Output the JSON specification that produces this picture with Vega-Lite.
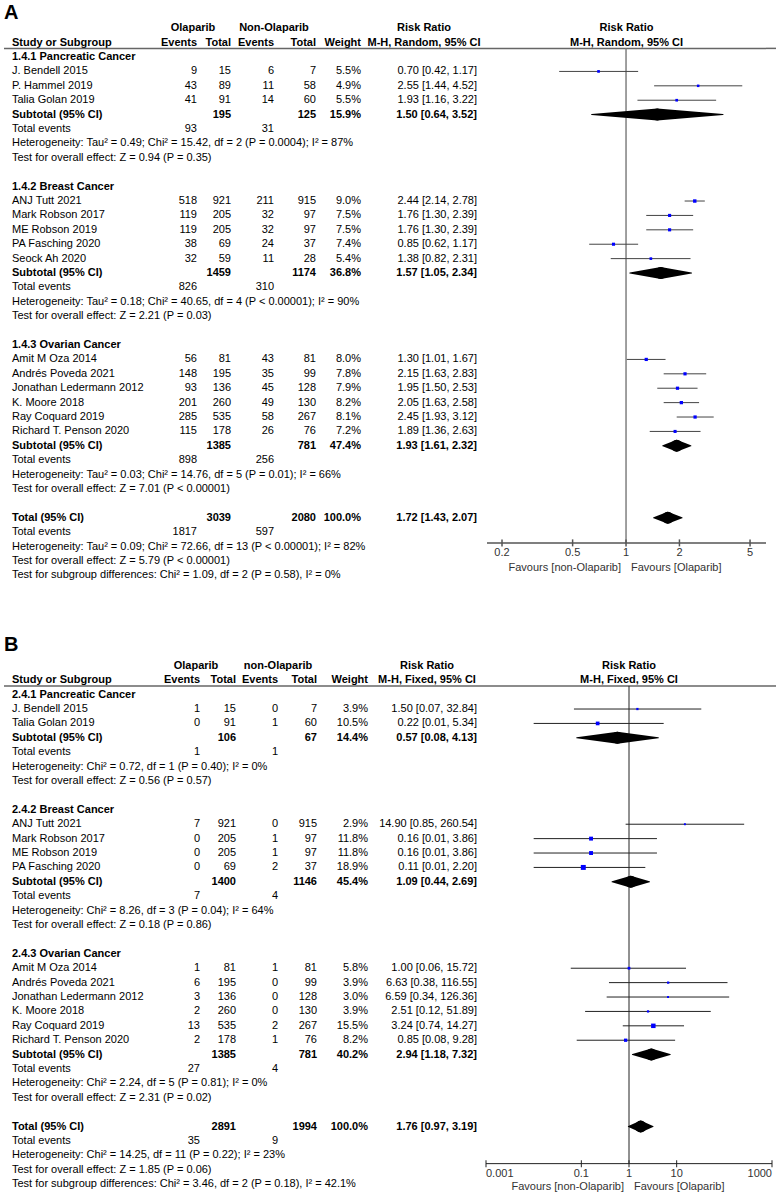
{
"$schema": "https://vega.github.io/schema/vega-lite/v6.json",
"background": "white",
"padding": {"left": 3, "top": 0, "right": 0, "bottom": 0},
"spacing": 43.6,
"config": {"font": "Liberation Sans", "view": {"stroke": null}, "text": {"fontSize": 11, "baseline": "middle", "color": "#000"}},
"datasets": {
"ticksA": [{"v": 0.2}, {"v": 0.5}, {"v": 1}, {"v": 2}, {"v": 5}],
"ticksB": [{"v": 0.001}, {"v": 0.1}, {"v": 1}, {"v": 10}, {"v": 1000}],
"A": [
{"row":0,"kind":"group","label":"1.4.1 Pancreatic Cancer"},
{"row":1,"kind":"study","label":"J. Bendell 2015","e1":9,"t1":15,"e2":6,"t2":7,"w":0.055,"ci":"0.70 [0.42, 1.17]","rr":0.70,"lo":0.42,"hi":1.17},
{"row":2,"kind":"study","label":"P. Hammel 2019","e1":43,"t1":89,"e2":11,"t2":58,"w":0.049,"ci":"2.55 [1.44, 4.52]","rr":2.55,"lo":1.44,"hi":4.52},
{"row":3,"kind":"study","label":"Talia Golan 2019","e1":41,"t1":91,"e2":14,"t2":60,"w":0.055,"ci":"1.93 [1.16, 3.22]","rr":1.93,"lo":1.16,"hi":3.22},
{"row":4,"kind":"sub","label":"Subtotal (95% CI)","t1":195,"t2":125,"w":0.159,"ci":"1.50 [0.64, 3.52]","rr":1.50,"lo":0.64,"hi":3.52},
{"row":5,"kind":"events","label":"Total events","e1":93,"e2":31},
{"row":6,"kind":"note","label":"Heterogeneity: Tau² = 0.49; Chi² = 15.42, df = 2 (P = 0.0004); I² = 87%"},
{"row":7,"kind":"note","label":"Test for overall effect: Z = 0.94 (P = 0.35)"},
{"row":9,"kind":"group","label":"1.4.2 Breast Cancer"},
{"row":10,"kind":"study","label":"ANJ Tutt 2021","e1":518,"t1":921,"e2":211,"t2":915,"w":0.090,"ci":"2.44 [2.14, 2.78]","rr":2.44,"lo":2.14,"hi":2.78},
{"row":11,"kind":"study","label":"Mark Robson 2017","e1":119,"t1":205,"e2":32,"t2":97,"w":0.075,"ci":"1.76 [1.30, 2.39]","rr":1.76,"lo":1.30,"hi":2.39},
{"row":12,"kind":"study","label":"ME Robson 2019","e1":119,"t1":205,"e2":32,"t2":97,"w":0.075,"ci":"1.76 [1.30, 2.39]","rr":1.76,"lo":1.30,"hi":2.39},
{"row":13,"kind":"study","label":"PA Fasching 2020","e1":38,"t1":69,"e2":24,"t2":37,"w":0.074,"ci":"0.85 [0.62, 1.17]","rr":0.85,"lo":0.62,"hi":1.17},
{"row":14,"kind":"study","label":"Seock Ah 2020","e1":32,"t1":59,"e2":11,"t2":28,"w":0.054,"ci":"1.38 [0.82, 2.31]","rr":1.38,"lo":0.82,"hi":2.31},
{"row":15,"kind":"sub","label":"Subtotal (95% CI)","t1":1459,"t2":1174,"w":0.368,"ci":"1.57 [1.05, 2.34]","rr":1.57,"lo":1.05,"hi":2.34},
{"row":16,"kind":"events","label":"Total events","e1":826,"e2":310},
{"row":17,"kind":"note","label":"Heterogeneity: Tau² = 0.18; Chi² = 40.65, df = 4 (P < 0.00001); I² = 90%"},
{"row":18,"kind":"note","label":"Test for overall effect: Z = 2.21 (P = 0.03)"},
{"row":20,"kind":"group","label":"1.4.3 Ovarian Cancer"},
{"row":21,"kind":"study","label":"Amit M Oza 2014","e1":56,"t1":81,"e2":43,"t2":81,"w":0.080,"ci":"1.30 [1.01, 1.67]","rr":1.30,"lo":1.01,"hi":1.67},
{"row":22,"kind":"study","label":"Andrés Poveda 2021","e1":148,"t1":195,"e2":35,"t2":99,"w":0.078,"ci":"2.15 [1.63, 2.83]","rr":2.15,"lo":1.63,"hi":2.83},
{"row":23,"kind":"study","label":"Jonathan Ledermann 2012","e1":93,"t1":136,"e2":45,"t2":128,"w":0.079,"ci":"1.95 [1.50, 2.53]","rr":1.95,"lo":1.50,"hi":2.53},
{"row":24,"kind":"study","label":"K. Moore 2018","e1":201,"t1":260,"e2":49,"t2":130,"w":0.082,"ci":"2.05 [1.63, 2.58]","rr":2.05,"lo":1.63,"hi":2.58},
{"row":25,"kind":"study","label":"Ray Coquard 2019","e1":285,"t1":535,"e2":58,"t2":267,"w":0.081,"ci":"2.45 [1.93, 3.12]","rr":2.45,"lo":1.93,"hi":3.12},
{"row":26,"kind":"study","label":"Richard T. Penson 2020","e1":115,"t1":178,"e2":26,"t2":76,"w":0.072,"ci":"1.89 [1.36, 2.63]","rr":1.89,"lo":1.36,"hi":2.63},
{"row":27,"kind":"sub","label":"Subtotal (95% CI)","t1":1385,"t2":781,"w":0.474,"ci":"1.93 [1.61, 2.32]","rr":1.93,"lo":1.61,"hi":2.32},
{"row":28,"kind":"events","label":"Total events","e1":898,"e2":256},
{"row":29,"kind":"note","label":"Heterogeneity: Tau² = 0.03; Chi² = 14.76, df = 5 (P = 0.01); I² = 66%"},
{"row":30,"kind":"note","label":"Test for overall effect: Z = 7.01 (P < 0.00001)"},
{"row":32,"kind":"total","label":"Total (95% CI)","t1":3039,"t2":2080,"w":1,"ci":"1.72 [1.43, 2.07]","rr":1.72,"lo":1.43,"hi":2.07},
{"row":33,"kind":"events","label":"Total events","e1":1817,"e2":597},
{"row":34,"kind":"note","label":"Heterogeneity: Tau² = 0.09; Chi² = 72.66, df = 13 (P < 0.00001); I² = 82%"},
{"row":35,"kind":"note","label":"Test for overall effect: Z = 5.79 (P < 0.00001)"},
{"row":36,"kind":"note","label":"Test for subgroup differences: Chi² = 1.09, df = 2 (P = 0.58), I² = 0%"}
],
"B": [
{"row":0,"kind":"group","label":"2.4.1 Pancreatic Cancer"},
{"row":1,"kind":"study","label":"J. Bendell 2015","e1":1,"t1":15,"e2":0,"t2":7,"w":0.039,"ci":"1.50 [0.07, 32.84]","rr":1.50,"lo":0.07,"hi":32.84},
{"row":2,"kind":"study","label":"Talia Golan 2019","e1":0,"t1":91,"e2":1,"t2":60,"w":0.105,"ci":"0.22 [0.01, 5.34]","rr":0.22,"lo":0.01,"hi":5.34},
{"row":3,"kind":"sub","label":"Subtotal (95% CI)","t1":106,"t2":67,"w":0.144,"ci":"0.57 [0.08, 4.13]","rr":0.57,"lo":0.08,"hi":4.13},
{"row":4,"kind":"events","label":"Total events","e1":1,"e2":1},
{"row":5,"kind":"note","label":"Heterogeneity: Chi² = 0.72, df = 1 (P = 0.40); I² = 0%"},
{"row":6,"kind":"note","label":"Test for overall effect: Z = 0.56 (P = 0.57)"},
{"row":8,"kind":"group","label":"2.4.2 Breast Cancer"},
{"row":9,"kind":"study","label":"ANJ Tutt 2021","e1":7,"t1":921,"e2":0,"t2":915,"w":0.029,"ci":"14.90 [0.85, 260.54]","rr":14.90,"lo":0.85,"hi":260.54},
{"row":10,"kind":"study","label":"Mark Robson 2017","e1":0,"t1":205,"e2":1,"t2":97,"w":0.118,"ci":"0.16 [0.01, 3.86]","rr":0.16,"lo":0.01,"hi":3.86},
{"row":11,"kind":"study","label":"ME Robson 2019","e1":0,"t1":205,"e2":1,"t2":97,"w":0.118,"ci":"0.16 [0.01, 3.86]","rr":0.16,"lo":0.01,"hi":3.86},
{"row":12,"kind":"study","label":"PA Fasching 2020","e1":0,"t1":69,"e2":2,"t2":37,"w":0.189,"ci":"0.11 [0.01, 2.20]","rr":0.11,"lo":0.01,"hi":2.20},
{"row":13,"kind":"sub","label":"Subtotal (95% CI)","t1":1400,"t2":1146,"w":0.454,"ci":"1.09 [0.44, 2.69]","rr":1.09,"lo":0.44,"hi":2.69},
{"row":14,"kind":"events","label":"Total events","e1":7,"e2":4},
{"row":15,"kind":"note","label":"Heterogeneity: Chi² = 8.26, df = 3 (P = 0.04); I² = 64%"},
{"row":16,"kind":"note","label":"Test for overall effect: Z = 0.18 (P = 0.86)"},
{"row":18,"kind":"group","label":"2.4.3 Ovarian Cancer"},
{"row":19,"kind":"study","label":"Amit M Oza 2014","e1":1,"t1":81,"e2":1,"t2":81,"w":0.058,"ci":"1.00 [0.06, 15.72]","rr":1.00,"lo":0.06,"hi":15.72},
{"row":20,"kind":"study","label":"Andrés Poveda 2021","e1":6,"t1":195,"e2":0,"t2":99,"w":0.039,"ci":"6.63 [0.38, 116.55]","rr":6.63,"lo":0.38,"hi":116.55},
{"row":21,"kind":"study","label":"Jonathan Ledermann 2012","e1":3,"t1":136,"e2":0,"t2":128,"w":0.030,"ci":"6.59 [0.34, 126.36]","rr":6.59,"lo":0.34,"hi":126.36},
{"row":22,"kind":"study","label":"K. Moore 2018","e1":2,"t1":260,"e2":0,"t2":130,"w":0.039,"ci":"2.51 [0.12, 51.89]","rr":2.51,"lo":0.12,"hi":51.89},
{"row":23,"kind":"study","label":"Ray Coquard 2019","e1":13,"t1":535,"e2":2,"t2":267,"w":0.155,"ci":"3.24 [0.74, 14.27]","rr":3.24,"lo":0.74,"hi":14.27},
{"row":24,"kind":"study","label":"Richard T. Penson 2020","e1":2,"t1":178,"e2":1,"t2":76,"w":0.082,"ci":"0.85 [0.08, 9.28]","rr":0.85,"lo":0.08,"hi":9.28},
{"row":25,"kind":"sub","label":"Subtotal (95% CI)","t1":1385,"t2":781,"w":0.402,"ci":"2.94 [1.18, 7.32]","rr":2.94,"lo":1.18,"hi":7.32},
{"row":26,"kind":"events","label":"Total events","e1":27,"e2":4},
{"row":27,"kind":"note","label":"Heterogeneity: Chi² = 2.24, df = 5 (P = 0.81); I² = 0%"},
{"row":28,"kind":"note","label":"Test for overall effect: Z = 2.31 (P = 0.02)"},
{"row":30,"kind":"total","label":"Total (95% CI)","t1":2891,"t2":1994,"w":1,"ci":"1.76 [0.97, 3.19]","rr":1.76,"lo":0.97,"hi":3.19},
{"row":31,"kind":"events","label":"Total events","e1":35,"e2":9},
{"row":32,"kind":"note","label":"Heterogeneity: Chi² = 14.25, df = 11 (P = 0.22); I² = 23%"},
{"row":33,"kind":"note","label":"Test for overall effect: Z = 1.85 (P = 0.06)"},
{"row":34,"kind":"note","label":"Test for subgroup differences: Chi² = 3.46, df = 2 (P = 0.18), I² = 42.1%"}
]
},
"vconcat": [
{"hconcat": [
{"width": 147, "height": 590.4, "data": {"name": "A"},
 "layer": [
  {"transform": [{"filter": {"field": "kind", "oneOf": ["study", "events", "note"]}}], "mark": {"type": "text", "align": "left", "dx": 8}, "encoding": {"y": {"field": "row", "type": "quantitative", "scale": {"domain": [-3.96, 37.04], "reverse": true, "nice": false, "zero": false}, "axis": null}, "x": {"value": 0}, "text": {"field": "label", "type": "nominal"}}},
  {"transform": [{"filter": {"field": "kind", "oneOf": ["group", "sub", "total"]}}], "mark": {"type": "text", "align": "left", "dx": 8, "fontWeight": "bold"}, "encoding": {"y": {"field": "row", "type": "quantitative", "scale": {"domain": [-3.96, 37.04], "reverse": true, "nice": false, "zero": false}, "axis": null}, "x": {"value": 0}, "text": {"field": "label", "type": "nominal"}}},
  {"data": {"values": [{}]}, "mark": {"type": "text", "align": "left", "dx": 8, "fontWeight": "bold"}, "encoding": {"x": {"value": 0}, "y": {"datum": -1, "scale": {"domain": [-3.96, 37.04], "reverse": true, "nice": false, "zero": false}, "axis": null}, "text": {"value": "Study or Subgroup"}}},
  {"data": {"values": [{}]}, "mark": {"type": "text", "align": "left", "fontWeight": "bold", "fontSize": 20}, "encoding": {"x": {"value": 0}, "y": {"datum": -3.05, "scale": {"domain": [-3.96, 37.04], "reverse": true, "nice": false, "zero": false}, "axis": null}, "text": {"value": "A"}}},
  {"data": {"values": [{}]}, "mark": {"type": "rule", "color": "#666", "strokeWidth": 1.5}, "encoding": {"x": {"value": 0}, "x2": {"value": "width"}, "y": {"datum": -0.6, "scale": {"domain": [-3.96, 37.04], "reverse": true, "nice": false, "zero": false}, "axis": null}}}
 ]},
{"width": 46, "height": 590.4, "data": {"name": "A"},
 "layer": [
  {"transform": [{"filter": {"field": "kind", "oneOf": ["study", "events"]}}], "mark": {"type": "text", "align": "right"}, "encoding": {"y": {"field": "row", "type": "quantitative", "scale": {"domain": [-3.96, 37.04], "reverse": true, "nice": false, "zero": false}, "axis": null}, "x": {"value": "width"}, "text": {"field": "e1", "type": "quantitative", "format": "d"}}},
  {"data": {"values": [{}]}, "mark": {"type": "text", "align": "right", "fontWeight": "bold"}, "encoding": {"x": {"value": "width"}, "y": {"datum": -1, "scale": {"domain": [-3.96, 37.04], "reverse": true, "nice": false, "zero": false}, "axis": null}, "text": {"value": "Events"}}},
  {"data": {"values": [{}]}, "mark": {"type": "text", "align": "center", "fontWeight": "bold", "dx": -4}, "encoding": {"x": {"value": "width"}, "y": {"datum": -2, "scale": {"domain": [-3.96, 37.04], "reverse": true, "nice": false, "zero": false}, "axis": null}, "text": {"value": "Olaparib"}}},
  {"data": {"values": [{}]}, "mark": {"type": "rule", "color": "#666", "strokeWidth": 1.5}, "encoding": {"x": {"value": 0}, "x2": {"value": "width"}, "y": {"datum": -0.6, "scale": {"domain": [-3.96, 37.04], "reverse": true, "nice": false, "zero": false}, "axis": null}}}
 ]},
{"width": 34, "height": 590.4, "data": {"name": "A"},
 "layer": [
  {"transform": [{"filter": {"field": "kind", "equal": "study"}}], "mark": {"type": "text", "align": "right"}, "encoding": {"y": {"field": "row", "type": "quantitative", "scale": {"domain": [-3.96, 37.04], "reverse": true, "nice": false, "zero": false}, "axis": null}, "x": {"value": "width"}, "text": {"field": "t1", "type": "quantitative", "format": "d"}}},
  {"transform": [{"filter": {"field": "kind", "oneOf": ["sub", "total"]}}], "mark": {"type": "text", "align": "right", "fontWeight": "bold"}, "encoding": {"y": {"field": "row", "type": "quantitative", "scale": {"domain": [-3.96, 37.04], "reverse": true, "nice": false, "zero": false}, "axis": null}, "x": {"value": "width"}, "text": {"field": "t1", "type": "quantitative", "format": "d"}}},
  {"data": {"values": [{}]}, "mark": {"type": "text", "align": "right", "fontWeight": "bold"}, "encoding": {"x": {"value": "width"}, "y": {"datum": -1, "scale": {"domain": [-3.96, 37.04], "reverse": true, "nice": false, "zero": false}, "axis": null}, "text": {"value": "Total"}}},
  {"data": {"values": [{}]}, "mark": {"type": "rule", "color": "#666", "strokeWidth": 1.5}, "encoding": {"x": {"value": 0}, "x2": {"value": "width"}, "y": {"datum": -0.6, "scale": {"domain": [-3.96, 37.04], "reverse": true, "nice": false, "zero": false}, "axis": null}}}
 ]},
{"width": 43, "height": 590.4, "data": {"name": "A"},
 "layer": [
  {"transform": [{"filter": {"field": "kind", "oneOf": ["study", "events"]}}], "mark": {"type": "text", "align": "right"}, "encoding": {"y": {"field": "row", "type": "quantitative", "scale": {"domain": [-3.96, 37.04], "reverse": true, "nice": false, "zero": false}, "axis": null}, "x": {"value": "width"}, "text": {"field": "e2", "type": "quantitative", "format": "d"}}},
  {"data": {"values": [{}]}, "mark": {"type": "text", "align": "right", "fontWeight": "bold"}, "encoding": {"x": {"value": "width"}, "y": {"datum": -1, "scale": {"domain": [-3.96, 37.04], "reverse": true, "nice": false, "zero": false}, "axis": null}, "text": {"value": "Events"}}},
  {"data": {"values": [{}]}, "mark": {"type": "text", "align": "center", "fontWeight": "bold"}, "encoding": {"x": {"value": "width"}, "y": {"datum": -2, "scale": {"domain": [-3.96, 37.04], "reverse": true, "nice": false, "zero": false}, "axis": null}, "text": {"value": "Non-Olaparib"}}},
  {"data": {"values": [{}]}, "mark": {"type": "rule", "color": "#666", "strokeWidth": 1.5}, "encoding": {"x": {"value": 0}, "x2": {"value": "width"}, "y": {"datum": -0.6, "scale": {"domain": [-3.96, 37.04], "reverse": true, "nice": false, "zero": false}, "axis": null}}}
 ]},
{"width": 42, "height": 590.4, "data": {"name": "A"},
 "layer": [
  {"transform": [{"filter": {"field": "kind", "equal": "study"}}], "mark": {"type": "text", "align": "right"}, "encoding": {"y": {"field": "row", "type": "quantitative", "scale": {"domain": [-3.96, 37.04], "reverse": true, "nice": false, "zero": false}, "axis": null}, "x": {"value": "width"}, "text": {"field": "t2", "type": "quantitative", "format": "d"}}},
  {"transform": [{"filter": {"field": "kind", "oneOf": ["sub", "total"]}}], "mark": {"type": "text", "align": "right", "fontWeight": "bold"}, "encoding": {"y": {"field": "row", "type": "quantitative", "scale": {"domain": [-3.96, 37.04], "reverse": true, "nice": false, "zero": false}, "axis": null}, "x": {"value": "width"}, "text": {"field": "t2", "type": "quantitative", "format": "d"}}},
  {"data": {"values": [{}]}, "mark": {"type": "text", "align": "right", "fontWeight": "bold"}, "encoding": {"x": {"value": "width"}, "y": {"datum": -1, "scale": {"domain": [-3.96, 37.04], "reverse": true, "nice": false, "zero": false}, "axis": null}, "text": {"value": "Total"}}},
  {"data": {"values": [{}]}, "mark": {"type": "rule", "color": "#666", "strokeWidth": 1.5}, "encoding": {"x": {"value": 0}, "x2": {"value": "width"}, "y": {"datum": -0.6, "scale": {"domain": [-3.96, 37.04], "reverse": true, "nice": false, "zero": false}, "axis": null}}}
 ]},
{"width": 45, "height": 590.4, "data": {"name": "A"},
 "layer": [
  {"transform": [{"filter": {"field": "kind", "equal": "study"}}], "mark": {"type": "text", "align": "right"}, "encoding": {"y": {"field": "row", "type": "quantitative", "scale": {"domain": [-3.96, 37.04], "reverse": true, "nice": false, "zero": false}, "axis": null}, "x": {"value": "width"}, "text": {"field": "w", "type": "quantitative", "format": ".1%"}}},
  {"transform": [{"filter": {"field": "kind", "oneOf": ["sub", "total"]}}], "mark": {"type": "text", "align": "right", "fontWeight": "bold"}, "encoding": {"y": {"field": "row", "type": "quantitative", "scale": {"domain": [-3.96, 37.04], "reverse": true, "nice": false, "zero": false}, "axis": null}, "x": {"value": "width"}, "text": {"field": "w", "type": "quantitative", "format": ".1%"}}},
  {"data": {"values": [{}]}, "mark": {"type": "text", "align": "right", "fontWeight": "bold"}, "encoding": {"x": {"value": "width"}, "y": {"datum": -1, "scale": {"domain": [-3.96, 37.04], "reverse": true, "nice": false, "zero": false}, "axis": null}, "text": {"value": "Weight"}}},
  {"data": {"values": [{}]}, "mark": {"type": "rule", "color": "#666", "strokeWidth": 1.5}, "encoding": {"x": {"value": 0}, "x2": {"value": "width"}, "y": {"datum": -0.6, "scale": {"domain": [-3.96, 37.04], "reverse": true, "nice": false, "zero": false}, "axis": null}}}
 ]},
{"width": 126, "height": 590.4, "data": {"name": "A"},
 "layer": [
  {"transform": [{"filter": {"field": "kind", "equal": "study"}}], "mark": {"type": "text", "align": "right", "dx": -10}, "encoding": {"y": {"field": "row", "type": "quantitative", "scale": {"domain": [-3.96, 37.04], "reverse": true, "nice": false, "zero": false}, "axis": null}, "x": {"value": "width"}, "text": {"field": "ci", "type": "nominal"}}},
  {"transform": [{"filter": {"field": "kind", "oneOf": ["sub", "total"]}}], "mark": {"type": "text", "align": "right", "dx": -10, "fontWeight": "bold"}, "encoding": {"y": {"field": "row", "type": "quantitative", "scale": {"domain": [-3.96, 37.04], "reverse": true, "nice": false, "zero": false}, "axis": null}, "x": {"value": "width"}, "text": {"field": "ci", "type": "nominal"}}},
  {"data": {"values": [{}]}, "mark": {"type": "text", "align": "center", "fontWeight": "bold"}, "encoding": {"y": {"datum": -2, "scale": {"domain": [-3.96, 37.04], "reverse": true, "nice": false, "zero": false}, "axis": null}, "text": {"value": "Risk Ratio"}}},
  {"data": {"values": [{}]}, "mark": {"type": "text", "align": "center", "fontWeight": "bold"}, "encoding": {"y": {"datum": -1, "scale": {"domain": [-3.96, 37.04], "reverse": true, "nice": false, "zero": false}, "axis": null}, "text": {"value": "M-H, Random, 95% CI"}}},
  {"data": {"values": [{}]}, "mark": {"type": "rule", "color": "#666", "strokeWidth": 1.5}, "encoding": {"x": {"value": 0}, "x2": {"value": "width"}, "y": {"datum": -0.6, "scale": {"domain": [-3.96, 37.04], "reverse": true, "nice": false, "zero": false}, "axis": null}}}
 ]},
{"width": 279, "height": 542.88, "data": {"name": "A"},
 "resolve": {"scale": {"size": "independent"}},
 "layer": [
  {"data": {"values": [{}]}, "mark": {"type": "rule", "color": "#666", "strokeWidth": 1.5}, "encoding": {"x": {"value": 0}, "x2": {"value": "width"}, "y": {"datum": -0.6, "scale": {"domain": [-3.96, 33.74], "reverse": true, "nice": false, "zero": false}, "axis": null}}},
  {"data": {"values": [{}]}, "mark": {"type": "rule", "color": "#808080", "strokeWidth": 1.5}, "encoding": {"x": {"datum": 1, "type": "quantitative", "scale": {"type": "log", "domain": [0.1646, 6.15], "nice": false}, "axis": null}, "y": {"datum": -0.6, "scale": {"domain": [-3.96, 33.74], "reverse": true, "nice": false, "zero": false}, "axis": null}, "y2": {"value": "height"}}},
  {"data": {"values": [{}]}, "mark": {"type": "rule", "color": "#555", "strokeWidth": 1.5}, "encoding": {"x": {"value": 0}, "x2": {"value": "width"}, "y": {"value": "height"}}},
  {"data": {"name": "ticksA"}, "mark": {"type": "tick", "orient": "vertical", "size": 7, "thickness": 1.5, "color": "#555", "opacity": 1}, "encoding": {"x": {"field": "v", "type": "quantitative", "scale": {"type": "log", "domain": [0.1646, 6.15], "nice": false}, "axis": null}, "y": {"value": "height"}}},
  {"data": {"name": "ticksA"}, "mark": {"type": "text", "align": "center", "dy": 10, "color": "#333"}, "encoding": {"x": {"field": "v", "type": "quantitative", "scale": {"type": "log", "domain": [0.1646, 6.15], "nice": false}, "axis": null}, "y": {"value": "height"}, "text": {"field": "v", "type": "quantitative", "format": "~g"}}},
  {"transform": [{"filter": {"field": "kind", "equal": "study"}}], "mark": {"type": "rule", "color": "#444", "strokeWidth": 1}, "encoding": {"y": {"field": "row", "type": "quantitative", "scale": {"domain": [-3.96, 33.74], "reverse": true, "nice": false, "zero": false}, "axis": null}, "x": {"field": "lo", "type": "quantitative", "scale": {"type": "log", "domain": [0.1646, 6.15], "nice": false}, "axis": null}, "x2": {"field": "hi"}}},
  {"transform": [{"filter": {"field": "kind", "equal": "study"}}], "mark": {"type": "point", "shape": "square", "filled": true, "color": "#0000ff", "opacity": 1}, "encoding": {"y": {"field": "row", "type": "quantitative", "scale": {"domain": [-3.96, 33.74], "reverse": true, "nice": false, "zero": false}, "axis": null}, "x": {"field": "rr", "type": "quantitative", "scale": {"type": "log", "domain": [0.1646, 6.15], "nice": false}, "axis": null}, "size": {"field": "w", "type": "quantitative", "scale": {"domain": [0, 0.2], "range": [0, 26]}, "legend": null}}},
  {"transform": [{"filter": {"field": "kind", "oneOf": ["sub", "total"]}}, {"fold": ["lo", "rr"], "as": ["pt", "val"]}], "mark": {"type": "trail", "color": "#000"}, "encoding": {"y": {"field": "row", "type": "quantitative", "scale": {"domain": [-3.96, 33.74], "reverse": true, "nice": false, "zero": false}, "axis": null}, "x": {"field": "val", "type": "quantitative", "scale": {"type": "log", "domain": [0.1646, 6.15], "nice": false}, "axis": null}, "detail": {"field": "row", "type": "nominal"}, "order": {"field": "val", "type": "quantitative"}, "size": {"field": "pt", "type": "ordinal", "scale": {"type": "point", "domain": ["lo", "rr"], "range": [0, 12]}, "legend": null}}},
  {"transform": [{"filter": {"field": "kind", "oneOf": ["sub", "total"]}}, {"fold": ["rr", "hi"], "as": ["pt", "val"]}], "mark": {"type": "trail", "color": "#000"}, "encoding": {"y": {"field": "row", "type": "quantitative", "scale": {"domain": [-3.96, 33.74], "reverse": true, "nice": false, "zero": false}, "axis": null}, "x": {"field": "val", "type": "quantitative", "scale": {"type": "log", "domain": [0.1646, 6.15], "nice": false}, "axis": null}, "detail": {"field": "row", "type": "nominal"}, "order": {"field": "val", "type": "quantitative"}, "size": {"field": "pt", "type": "ordinal", "scale": {"type": "point", "domain": ["hi", "rr"], "range": [0, 12]}, "legend": null}}},
  {"data": {"values": [{}]}, "mark": {"type": "text", "align": "center", "fontWeight": "bold"}, "encoding": {"y": {"datum": -2, "scale": {"domain": [-3.96, 33.74], "reverse": true, "nice": false, "zero": false}, "axis": null}, "text": {"value": "Risk Ratio"}}},
  {"data": {"values": [{}]}, "mark": {"type": "text", "align": "center", "fontWeight": "bold"}, "encoding": {"y": {"datum": -1, "scale": {"domain": [-3.96, 33.74], "reverse": true, "nice": false, "zero": false}, "axis": null}, "text": {"value": "M-H, Random, 95% CI"}}},
  {"data": {"values": [{}]}, "mark": {"type": "text", "align": "right", "dx": -5, "dy": 25, "color": "#333"}, "encoding": {"x": {"datum": 1, "type": "quantitative", "scale": {"type": "log", "domain": [0.1646, 6.15], "nice": false}, "axis": null}, "y": {"value": "height"}, "text": {"value": "Favours [non-Olaparib]"}}},
  {"data": {"values": [{}]}, "mark": {"type": "text", "align": "left", "dx": 5, "dy": 25, "color": "#333"}, "encoding": {"x": {"datum": 1, "type": "quantitative", "scale": {"type": "log", "domain": [0.1646, 6.15], "nice": false}, "axis": null}, "y": {"value": "height"}, "text": {"value": "Favours [Olaparib]"}}}
 ]},
{"width": 10, "height": 590.4, "data": {"values": [{}]},
 "mark": {"type": "rule", "color": "#666", "strokeWidth": 1.5},
 "encoding": {"x": {"value": 0}, "x2": {"value": "width"}, "y": {"datum": -0.6, "scale": {"domain": [-3.96, 37.04], "reverse": true, "nice": false, "zero": false}, "axis": null}}}
], "spacing": 0, "bounds": "flush"},
{"hconcat": [
{"width": 147, "height": 561.6, "data": {"name": "B"},
 "layer": [
  {"transform": [{"filter": {"field": "kind", "oneOf": ["study", "events", "note"]}}], "mark": {"type": "text", "align": "left", "dx": 8}, "encoding": {"y": {"field": "row", "type": "quantitative", "scale": {"domain": [-3.96, 35.04], "reverse": true, "nice": false, "zero": false}, "axis": null}, "x": {"value": 0}, "text": {"field": "label", "type": "nominal"}}},
  {"transform": [{"filter": {"field": "kind", "oneOf": ["group", "sub", "total"]}}], "mark": {"type": "text", "align": "left", "dx": 8, "fontWeight": "bold"}, "encoding": {"y": {"field": "row", "type": "quantitative", "scale": {"domain": [-3.96, 35.04], "reverse": true, "nice": false, "zero": false}, "axis": null}, "x": {"value": 0}, "text": {"field": "label", "type": "nominal"}}},
  {"data": {"values": [{}]}, "mark": {"type": "text", "align": "left", "dx": 8, "fontWeight": "bold"}, "encoding": {"x": {"value": 0}, "y": {"datum": -1, "scale": {"domain": [-3.96, 35.04], "reverse": true, "nice": false, "zero": false}, "axis": null}, "text": {"value": "Study or Subgroup"}}},
  {"data": {"values": [{}]}, "mark": {"type": "text", "align": "left", "fontWeight": "bold", "fontSize": 20}, "encoding": {"x": {"value": 0}, "y": {"datum": -3.45, "scale": {"domain": [-3.96, 35.04], "reverse": true, "nice": false, "zero": false}, "axis": null}, "text": {"value": "B"}}},
  {"data": {"values": [{}]}, "mark": {"type": "rule", "color": "#666", "strokeWidth": 1.5}, "encoding": {"x": {"value": 0}, "x2": {"value": "width"}, "y": {"datum": -0.6, "scale": {"domain": [-3.96, 35.04], "reverse": true, "nice": false, "zero": false}, "axis": null}}}
 ]},
{"width": 49, "height": 561.6, "data": {"name": "B"},
 "layer": [
  {"transform": [{"filter": {"field": "kind", "oneOf": ["study", "events"]}}], "mark": {"type": "text", "align": "right"}, "encoding": {"y": {"field": "row", "type": "quantitative", "scale": {"domain": [-3.96, 35.04], "reverse": true, "nice": false, "zero": false}, "axis": null}, "x": {"value": "width"}, "text": {"field": "e1", "type": "quantitative", "format": "d"}}},
  {"data": {"values": [{}]}, "mark": {"type": "text", "align": "right", "fontWeight": "bold"}, "encoding": {"x": {"value": "width"}, "y": {"datum": -1, "scale": {"domain": [-3.96, 35.04], "reverse": true, "nice": false, "zero": false}, "axis": null}, "text": {"value": "Events"}}},
  {"data": {"values": [{}]}, "mark": {"type": "text", "align": "center", "fontWeight": "bold", "dx": -4}, "encoding": {"x": {"value": "width"}, "y": {"datum": -2, "scale": {"domain": [-3.96, 35.04], "reverse": true, "nice": false, "zero": false}, "axis": null}, "text": {"value": "Olaparib"}}},
  {"data": {"values": [{}]}, "mark": {"type": "rule", "color": "#666", "strokeWidth": 1.5}, "encoding": {"x": {"value": 0}, "x2": {"value": "width"}, "y": {"datum": -0.6, "scale": {"domain": [-3.96, 35.04], "reverse": true, "nice": false, "zero": false}, "axis": null}}}
 ]},
{"width": 36, "height": 561.6, "data": {"name": "B"},
 "layer": [
  {"transform": [{"filter": {"field": "kind", "equal": "study"}}], "mark": {"type": "text", "align": "right"}, "encoding": {"y": {"field": "row", "type": "quantitative", "scale": {"domain": [-3.96, 35.04], "reverse": true, "nice": false, "zero": false}, "axis": null}, "x": {"value": "width"}, "text": {"field": "t1", "type": "quantitative", "format": "d"}}},
  {"transform": [{"filter": {"field": "kind", "oneOf": ["sub", "total"]}}], "mark": {"type": "text", "align": "right", "fontWeight": "bold"}, "encoding": {"y": {"field": "row", "type": "quantitative", "scale": {"domain": [-3.96, 35.04], "reverse": true, "nice": false, "zero": false}, "axis": null}, "x": {"value": "width"}, "text": {"field": "t1", "type": "quantitative", "format": "d"}}},
  {"data": {"values": [{}]}, "mark": {"type": "text", "align": "right", "fontWeight": "bold"}, "encoding": {"x": {"value": "width"}, "y": {"datum": -1, "scale": {"domain": [-3.96, 35.04], "reverse": true, "nice": false, "zero": false}, "axis": null}, "text": {"value": "Total"}}},
  {"data": {"values": [{}]}, "mark": {"type": "rule", "color": "#666", "strokeWidth": 1.5}, "encoding": {"x": {"value": 0}, "x2": {"value": "width"}, "y": {"datum": -0.6, "scale": {"domain": [-3.96, 35.04], "reverse": true, "nice": false, "zero": false}, "axis": null}}}
 ]},
{"width": 42, "height": 561.6, "data": {"name": "B"},
 "layer": [
  {"transform": [{"filter": {"field": "kind", "oneOf": ["study", "events"]}}], "mark": {"type": "text", "align": "right"}, "encoding": {"y": {"field": "row", "type": "quantitative", "scale": {"domain": [-3.96, 35.04], "reverse": true, "nice": false, "zero": false}, "axis": null}, "x": {"value": "width"}, "text": {"field": "e2", "type": "quantitative", "format": "d"}}},
  {"data": {"values": [{}]}, "mark": {"type": "text", "align": "right", "fontWeight": "bold"}, "encoding": {"x": {"value": "width"}, "y": {"datum": -1, "scale": {"domain": [-3.96, 35.04], "reverse": true, "nice": false, "zero": false}, "axis": null}, "text": {"value": "Events"}}},
  {"data": {"values": [{}]}, "mark": {"type": "text", "align": "center", "fontWeight": "bold"}, "encoding": {"x": {"value": "width"}, "y": {"datum": -2, "scale": {"domain": [-3.96, 35.04], "reverse": true, "nice": false, "zero": false}, "axis": null}, "text": {"value": "non-Olaparib"}}},
  {"data": {"values": [{}]}, "mark": {"type": "rule", "color": "#666", "strokeWidth": 1.5}, "encoding": {"x": {"value": 0}, "x2": {"value": "width"}, "y": {"datum": -0.6, "scale": {"domain": [-3.96, 35.04], "reverse": true, "nice": false, "zero": false}, "axis": null}}}
 ]},
{"width": 39, "height": 561.6, "data": {"name": "B"},
 "layer": [
  {"transform": [{"filter": {"field": "kind", "equal": "study"}}], "mark": {"type": "text", "align": "right"}, "encoding": {"y": {"field": "row", "type": "quantitative", "scale": {"domain": [-3.96, 35.04], "reverse": true, "nice": false, "zero": false}, "axis": null}, "x": {"value": "width"}, "text": {"field": "t2", "type": "quantitative", "format": "d"}}},
  {"transform": [{"filter": {"field": "kind", "oneOf": ["sub", "total"]}}], "mark": {"type": "text", "align": "right", "fontWeight": "bold"}, "encoding": {"y": {"field": "row", "type": "quantitative", "scale": {"domain": [-3.96, 35.04], "reverse": true, "nice": false, "zero": false}, "axis": null}, "x": {"value": "width"}, "text": {"field": "t2", "type": "quantitative", "format": "d"}}},
  {"data": {"values": [{}]}, "mark": {"type": "text", "align": "right", "fontWeight": "bold"}, "encoding": {"x": {"value": "width"}, "y": {"datum": -1, "scale": {"domain": [-3.96, 35.04], "reverse": true, "nice": false, "zero": false}, "axis": null}, "text": {"value": "Total"}}},
  {"data": {"values": [{}]}, "mark": {"type": "rule", "color": "#666", "strokeWidth": 1.5}, "encoding": {"x": {"value": 0}, "x2": {"value": "width"}, "y": {"datum": -0.6, "scale": {"domain": [-3.96, 35.04], "reverse": true, "nice": false, "zero": false}, "axis": null}}}
 ]},
{"width": 51, "height": 561.6, "data": {"name": "B"},
 "layer": [
  {"transform": [{"filter": {"field": "kind", "equal": "study"}}], "mark": {"type": "text", "align": "right"}, "encoding": {"y": {"field": "row", "type": "quantitative", "scale": {"domain": [-3.96, 35.04], "reverse": true, "nice": false, "zero": false}, "axis": null}, "x": {"value": "width"}, "text": {"field": "w", "type": "quantitative", "format": ".1%"}}},
  {"transform": [{"filter": {"field": "kind", "oneOf": ["sub", "total"]}}], "mark": {"type": "text", "align": "right", "fontWeight": "bold"}, "encoding": {"y": {"field": "row", "type": "quantitative", "scale": {"domain": [-3.96, 35.04], "reverse": true, "nice": false, "zero": false}, "axis": null}, "x": {"value": "width"}, "text": {"field": "w", "type": "quantitative", "format": ".1%"}}},
  {"data": {"values": [{}]}, "mark": {"type": "text", "align": "right", "fontWeight": "bold"}, "encoding": {"x": {"value": "width"}, "y": {"datum": -1, "scale": {"domain": [-3.96, 35.04], "reverse": true, "nice": false, "zero": false}, "axis": null}, "text": {"value": "Weight"}}},
  {"data": {"values": [{}]}, "mark": {"type": "rule", "color": "#666", "strokeWidth": 1.5}, "encoding": {"x": {"value": 0}, "x2": {"value": "width"}, "y": {"datum": -0.6, "scale": {"domain": [-3.96, 35.04], "reverse": true, "nice": false, "zero": false}, "axis": null}}}
 ]},
{"width": 118, "height": 561.6, "data": {"name": "B"},
 "layer": [
  {"transform": [{"filter": {"field": "kind", "equal": "study"}}], "mark": {"type": "text", "align": "right", "dx": -9}, "encoding": {"y": {"field": "row", "type": "quantitative", "scale": {"domain": [-3.96, 35.04], "reverse": true, "nice": false, "zero": false}, "axis": null}, "x": {"value": "width"}, "text": {"field": "ci", "type": "nominal"}}},
  {"transform": [{"filter": {"field": "kind", "oneOf": ["sub", "total"]}}], "mark": {"type": "text", "align": "right", "dx": -9, "fontWeight": "bold"}, "encoding": {"y": {"field": "row", "type": "quantitative", "scale": {"domain": [-3.96, 35.04], "reverse": true, "nice": false, "zero": false}, "axis": null}, "x": {"value": "width"}, "text": {"field": "ci", "type": "nominal"}}},
  {"data": {"values": [{}]}, "mark": {"type": "text", "align": "center", "fontWeight": "bold"}, "encoding": {"y": {"datum": -2, "scale": {"domain": [-3.96, 35.04], "reverse": true, "nice": false, "zero": false}, "axis": null}, "text": {"value": "Risk Ratio"}}},
  {"data": {"values": [{}]}, "mark": {"type": "text", "align": "center", "fontWeight": "bold"}, "encoding": {"y": {"datum": -1, "scale": {"domain": [-3.96, 35.04], "reverse": true, "nice": false, "zero": false}, "axis": null}, "text": {"value": "M-H, Fixed, 95% CI"}}},
  {"data": {"values": [{}]}, "mark": {"type": "rule", "color": "#666", "strokeWidth": 1.5}, "encoding": {"x": {"value": 0}, "x2": {"value": "width"}, "y": {"datum": -0.6, "scale": {"domain": [-3.96, 35.04], "reverse": true, "nice": false, "zero": false}, "axis": null}}}
 ]},
{"width": 286, "height": 526.03, "data": {"name": "B"},
 "resolve": {"scale": {"size": "independent"}},
 "layer": [
  {"data": {"values": [{}]}, "mark": {"type": "rule", "color": "#666", "strokeWidth": 1.5}, "encoding": {"x": {"value": 0}, "x2": {"value": "width"}, "y": {"datum": -0.6, "scale": {"domain": [-3.96, 32.57], "reverse": true, "nice": false, "zero": false}, "axis": null}}},
  {"data": {"values": [{}]}, "mark": {"type": "rule", "color": "#222", "strokeWidth": 1}, "encoding": {"x": {"datum": 1, "type": "quantitative", "scale": {"type": "log", "domain": [0.001, 1000], "nice": false}, "axis": null}, "y": {"datum": -0.6, "scale": {"domain": [-3.96, 32.57], "reverse": true, "nice": false, "zero": false}, "axis": null}, "y2": {"value": "height"}}},
  {"data": {"values": [{}]}, "mark": {"type": "rule", "color": "#222", "strokeWidth": 1}, "encoding": {"x": {"value": 0}, "x2": {"value": "width"}, "y": {"value": "height"}}},
  {"data": {"name": "ticksB"}, "mark": {"type": "tick", "orient": "vertical", "size": 7, "thickness": 1, "color": "#222", "opacity": 1}, "encoding": {"x": {"field": "v", "type": "quantitative", "scale": {"type": "log", "domain": [0.001, 1000], "nice": false}, "axis": null}, "y": {"value": "height"}}},
  {"data": {"name": "ticksB"}, "transform": [{"filter": {"field": "v", "oneOf": [0.1, 1, 10]}}], "mark": {"type": "text", "align": "center", "dy": 10, "color": "#333"}, "encoding": {"x": {"field": "v", "type": "quantitative", "scale": {"type": "log", "domain": [0.001, 1000], "nice": false}, "axis": null}, "y": {"value": "height"}, "text": {"field": "v", "type": "quantitative", "format": "~g"}}},
  {"data": {"name": "ticksB"}, "transform": [{"filter": {"field": "v", "equal": 0.001}}], "mark": {"type": "text", "align": "left", "dy": 10, "color": "#333"}, "encoding": {"x": {"field": "v", "type": "quantitative", "scale": {"type": "log", "domain": [0.001, 1000], "nice": false}, "axis": null}, "y": {"value": "height"}, "text": {"field": "v", "type": "quantitative", "format": "~g"}}},
  {"data": {"name": "ticksB"}, "transform": [{"filter": {"field": "v", "equal": 1000}}], "mark": {"type": "text", "align": "right", "dy": 10, "color": "#333"}, "encoding": {"x": {"field": "v", "type": "quantitative", "scale": {"type": "log", "domain": [0.001, 1000], "nice": false}, "axis": null}, "y": {"value": "height"}, "text": {"field": "v", "type": "quantitative", "format": "~g"}}},
  {"transform": [{"filter": {"field": "kind", "equal": "study"}}], "mark": {"type": "rule", "color": "#222", "strokeWidth": 1}, "encoding": {"y": {"field": "row", "type": "quantitative", "scale": {"domain": [-3.96, 32.57], "reverse": true, "nice": false, "zero": false}, "axis": null}, "x": {"field": "lo", "type": "quantitative", "scale": {"type": "log", "domain": [0.001, 1000], "nice": false}, "axis": null}, "x2": {"field": "hi"}}},
  {"transform": [{"filter": {"field": "kind", "equal": "study"}}], "mark": {"type": "point", "shape": "square", "filled": true, "color": "#0000ff", "opacity": 1}, "encoding": {"y": {"field": "row", "type": "quantitative", "scale": {"domain": [-3.96, 32.57], "reverse": true, "nice": false, "zero": false}, "axis": null}, "x": {"field": "rr", "type": "quantitative", "scale": {"type": "log", "domain": [0.001, 1000], "nice": false}, "axis": null}, "size": {"field": "w", "type": "quantitative", "scale": {"domain": [0, 0.2], "range": [0, 26]}, "legend": null}}},
  {"transform": [{"filter": {"field": "kind", "oneOf": ["sub", "total"]}}, {"fold": ["lo", "rr"], "as": ["pt", "val"]}], "mark": {"type": "trail", "color": "#000"}, "encoding": {"y": {"field": "row", "type": "quantitative", "scale": {"domain": [-3.96, 32.57], "reverse": true, "nice": false, "zero": false}, "axis": null}, "x": {"field": "val", "type": "quantitative", "scale": {"type": "log", "domain": [0.001, 1000], "nice": false}, "axis": null}, "detail": {"field": "row", "type": "nominal"}, "order": {"field": "val", "type": "quantitative"}, "size": {"field": "pt", "type": "ordinal", "scale": {"type": "point", "domain": ["lo", "rr"], "range": [0, 12]}, "legend": null}}},
  {"transform": [{"filter": {"field": "kind", "oneOf": ["sub", "total"]}}, {"fold": ["rr", "hi"], "as": ["pt", "val"]}], "mark": {"type": "trail", "color": "#000"}, "encoding": {"y": {"field": "row", "type": "quantitative", "scale": {"domain": [-3.96, 32.57], "reverse": true, "nice": false, "zero": false}, "axis": null}, "x": {"field": "val", "type": "quantitative", "scale": {"type": "log", "domain": [0.001, 1000], "nice": false}, "axis": null}, "detail": {"field": "row", "type": "nominal"}, "order": {"field": "val", "type": "quantitative"}, "size": {"field": "pt", "type": "ordinal", "scale": {"type": "point", "domain": ["hi", "rr"], "range": [0, 12]}, "legend": null}}},
  {"data": {"values": [{}]}, "mark": {"type": "text", "align": "center", "fontWeight": "bold"}, "encoding": {"y": {"datum": -2, "scale": {"domain": [-3.96, 32.57], "reverse": true, "nice": false, "zero": false}, "axis": null}, "text": {"value": "Risk Ratio"}}},
  {"data": {"values": [{}]}, "mark": {"type": "text", "align": "center", "fontWeight": "bold"}, "encoding": {"y": {"datum": -1, "scale": {"domain": [-3.96, 32.57], "reverse": true, "nice": false, "zero": false}, "axis": null}, "text": {"value": "M-H, Fixed, 95% CI"}}},
  {"data": {"values": [{}]}, "mark": {"type": "text", "align": "right", "dx": -5, "dy": 23, "color": "#333"}, "encoding": {"x": {"datum": 1, "type": "quantitative", "scale": {"type": "log", "domain": [0.001, 1000], "nice": false}, "axis": null}, "y": {"value": "height"}, "text": {"value": "Favours [non-Olaparib]"}}},
  {"data": {"values": [{}]}, "mark": {"type": "text", "align": "left", "dx": 5, "dy": 23, "color": "#333"}, "encoding": {"x": {"datum": 1, "type": "quantitative", "scale": {"type": "log", "domain": [0.001, 1000], "nice": false}, "axis": null}, "y": {"value": "height"}, "text": {"value": "Favours [Olaparib]"}}}
 ]},
{"width": 4, "height": 561.6, "data": {"values": [{}]},
 "mark": {"type": "rule", "color": "#666", "strokeWidth": 1.5},
 "encoding": {"x": {"value": 0}, "x2": {"value": "width"}, "y": {"datum": -0.6, "scale": {"domain": [-3.96, 35.04], "reverse": true, "nice": false, "zero": false}, "axis": null}}}
], "spacing": 0, "bounds": "flush"}
]
}
